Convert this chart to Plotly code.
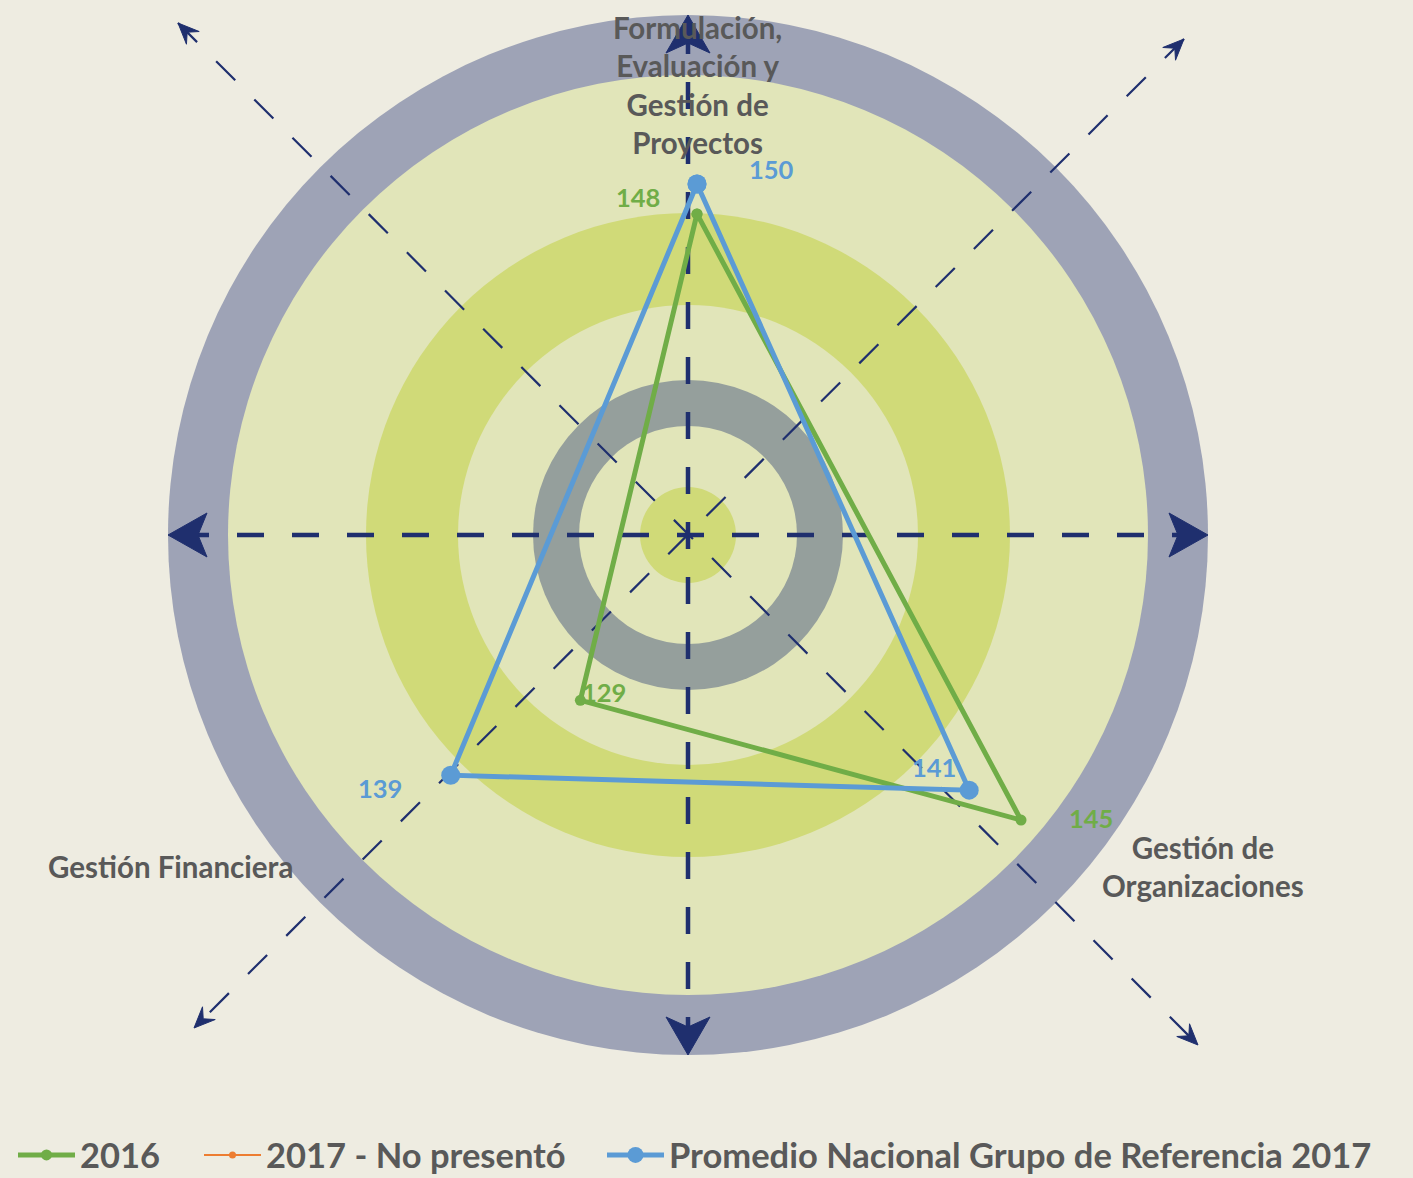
import math
import plotly.graph_objects as go

# ---------------- data ----------------
categories = ["Formulación, Evaluación y Gestión de Proyectos",
              "Gestión de Organizaciones",
              "Gestión Financiera"]
category_labels = ["Formulación,<br>Evaluación y<br>Gestión de<br>Proyectos",
                   "Gestión de<br>Organizaciones",
                   "Gestión Financiera"]
series_names = ["2016", "2017 - No presentó", "Promedio Nacional Grupo de Referencia 2017"]
values_2016 = [148, 145, 129]
values_2017 = [None, None, None]          # no presentó
values_promedio = [150, 141, 139]
radial_range = [120, 155]

# ---------------- layout constants ----------------
W, H = 1413, 1178
BG = "#eeece1"
NAVY = "#1f2f6e"
TXT = "#595959"
GREEN = "#70ad47"
ORANGE = "#ed7d31"
BLUE = "#5b9bd5"
FONT = "Lato"

def px(x):
    return x / W

def py(y):
    return 1 - y / H

# polar placement (pixels)
CX, CY = 697, 633
SCALE = 449 / 30.0                      # px per unit
R = (radial_range[1] - radial_range[0]) * SCALE

def closed(v):
    return list(v) + [v[0]]

theta_closed = closed(categories)

fig = go.Figure()
fig.add_trace(go.Scatterpolar(
    r=closed(values_2016), theta=theta_closed, name=series_names[0],
    mode="lines+markers", line=dict(color=GREEN, width=5),
    marker=dict(color=GREEN, size=11), legend="legend"))
fig.add_trace(go.Scatterpolar(
    r=closed(values_2017), theta=theta_closed, name=series_names[1],
    mode="lines+markers", line=dict(color=ORANGE, width=2),
    marker=dict(color=ORANGE, size=7), legend="legend2"))
fig.add_trace(go.Scatterpolar(
    r=closed(values_promedio), theta=theta_closed, name=series_names[2],
    mode="lines+markers", line=dict(color=BLUE, width=5),
    marker=dict(color=BLUE, size=19), legend="legend3"))

# ---------------- background target ----------------
TCX, TCY = 688, 535
rings = [(520, "#9ea3b6"), (460, "#e1e5b9"), (322, "#d0da78"), (230, "#e1e5b9"),
         (155, "#959f9c"), (109, "#e1e5b9"), (48, "#d0da78")]
shapes = []
for rad, col in rings:
    shapes.append(dict(type="circle", xref="paper", yref="paper",
                       x0=px(TCX - rad), x1=px(TCX + rad),
                       y0=py(TCY + rad), y1=py(TCY - rad),
                       fillcolor=col, line=dict(width=0), layer="below"))

def line_shape(x0, y0, x1, y1, width, dash):
    return dict(type="line", xref="paper", yref="paper",
                x0=px(x0), y0=py(y0), x1=px(x1), y1=py(y1),
                line=dict(color=NAVY, width=width, dash=dash), layer="below")

def arrow_head(tipx, tipy, dx, dy, back, half, notch):
    n = math.hypot(dx, dy)
    ux, uy = dx / n, dy / n
    pxv, pyv = -uy, ux
    pts = [(tipx, tipy),
           (tipx - back * ux + half * pxv, tipy - back * uy + half * pyv),
           (tipx - notch * ux, tipy - notch * uy),
           (tipx - back * ux - half * pxv, tipy - back * uy - half * pyv)]
    path = "M " + " L ".join(f"{px(a):.5f},{py(b):.5f}" for a, b in pts) + " Z"
    return dict(type="path", xref="paper", yref="paper", path=path,
                fillcolor=NAVY, line=dict(color=NAVY, width=1), layer="below")

# thick horizontal / vertical dashed axes
shapes.append(line_shape(182, TCY, 1194, TCY, 4.5, "27px,28px"))
shapes.append(line_shape(TCX, 27, TCX, 1043, 4.5, "27px,28px"))
shapes.append(arrow_head(168, TCY, -1, 0, 39, 22, 30))
shapes.append(arrow_head(1208, TCY, 1, 0, 39, 22, 30))
shapes.append(arrow_head(TCX, 15, 0, -1, 38, 22, 28))
shapes.append(arrow_head(TCX, 1055, 0, 1, 38, 22, 28))

# thin diagonal dashed axes
diag = [((178, 23), (1198, 1045)), ((1184, 39), (194, 1028))]
for (ax0, ay0), (ax1, ay1) in diag:
    shapes.append(line_shape(ax0, ay0, ax1, ay1, 2.2, "27px,27px"))
    shapes.append(arrow_head(ax0, ay0, ax0 - TCX, ay0 - TCY, 21, 9, 13))
    shapes.append(arrow_head(ax1, ay1, ax1 - TCX, ay1 - TCY, 21, 9, 13))

# ---------------- annotations ----------------
annotations = []
cat_pos = [(697, 85), (1203, 866), (170, 866)]
for lab, (x, y) in zip(category_labels, cat_pos):
    annotations.append(dict(text=lab, x=px(x), y=py(y), xref="paper", yref="paper",
                            xanchor="center", yanchor="middle", showarrow=False,
                            align="center",
                            font=dict(family=FONT, size=29.5, color=TXT, weight="bold")))

def point_px(v, i):
    ang = math.radians(120 * i)
    rr = (v - radial_range[0]) * SCALE
    return CX + rr * math.sin(ang), CY - rr * math.cos(ang)

label_offsets = {
    0: [(-59, -17), (70, -2), (24, -8)],
    2: [(75, -15), (-35, -23), (-71, 13)],
}
series_vals = {0: values_2016, 2: values_promedio}
series_cols = {0: GREEN, 2: BLUE}
for s, vals in series_vals.items():
    for i, v in enumerate(vals):
        x, y = point_px(v, i)
        dx, dy = label_offsets[s][i]
        annotations.append(dict(text=str(v), x=px(x + dx), y=py(y + dy),
                                xref="paper", yref="paper", xanchor="center",
                                yanchor="middle", showarrow=False,
                                font=dict(family=FONT, size=25.5, color=series_cols[s],
                                          weight="bold")))

legend_font = dict(family=FONT, size=34.5, color=TXT, weight="bold")
def legend_at(xpix):
    return dict(orientation="h", x=px(xpix), xanchor="left", y=py(1155), yanchor="middle",
                bgcolor="rgba(0,0,0,0)", itemwidth=57, font=legend_font)

fig.update_layout(
    width=W, height=H,
    margin=dict(l=0, r=0, t=0, b=0, autoexpand=False),
    paper_bgcolor=BG, plot_bgcolor="rgba(0,0,0,0)",
    shapes=shapes, annotations=annotations,
    polar=dict(
        domain=dict(x=[px(CX - R), px(CX + R)], y=[py(CY + R), py(CY - R)]),
        bgcolor="rgba(0,0,0,0)",
        radialaxis=dict(range=radial_range, visible=False),
        angularaxis=dict(direction="clockwise", rotation=90, showline=False,
                         showgrid=False, showticklabels=False, ticks=""),
    ),
    showlegend=True,
    legend=legend_at(13),
    legend2=legend_at(199),
    legend3=legend_at(602),
)

fig.write_html("out.html", config={"displayModeBar": False},
               post_script="document.body.style.margin='0px';"
                           "document.body.style.background='#eeece1';")
